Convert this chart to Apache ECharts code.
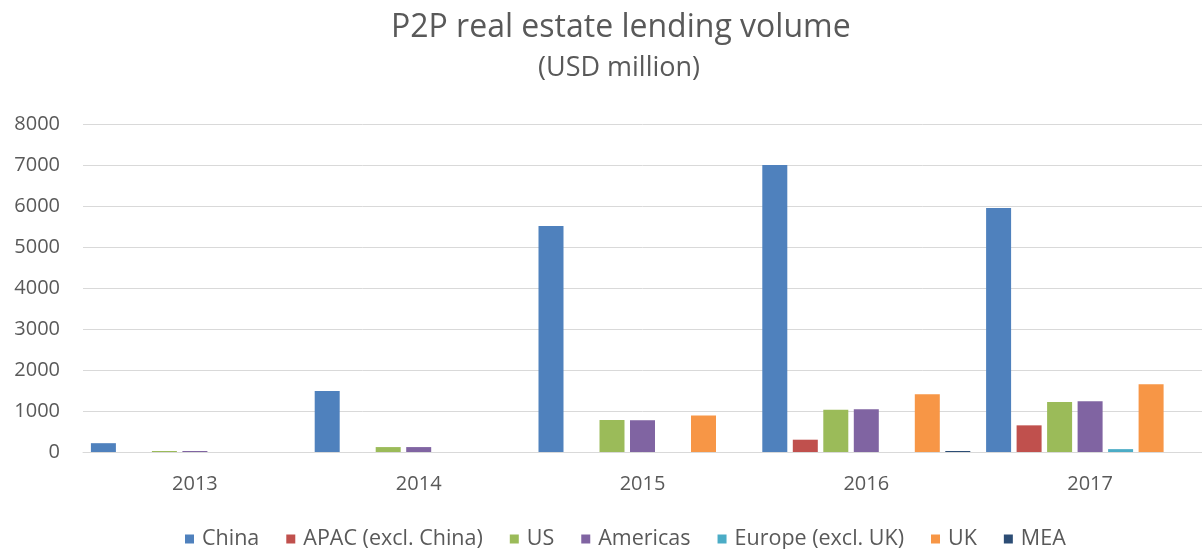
<!DOCTYPE html>
<html>
<head>
<meta charset="utf-8">
<title>P2P real estate lending volume</title>
<script src="https://cdn.jsdelivr.net/npm/echarts@6/dist/echarts.min.js"></script>
<style>
  html, body { margin: 0; padding: 0; background: #fff; }
  #chart { width: 1202px; height: 549px; }
</style>
</head>
<body>
<div id="chart"></div>
<script>
// 数据 - 按年份
var years = ['2013', '2014', '2015', '2016', '2017']
var china = [215, 1490, 5510, 7000, 5950]
var apac = [0, 0, 0, 300, 650]
var us = [25, 120, 780, 1030, 1220]
var americas = [25, 120, 775, 1040, 1240]
var europe = [0, 0, 0, 0, 70]
var uk = [0, 0, 890, 1410, 1650]
var mea = [0, 0, 0, 25, 0]

var seriesNames = ['China', 'APAC (excl. China)', 'US', 'Americas', 'Europe (excl. UK)', 'UK', 'MEA']
var seriesData = [china, apac, us, americas, europe, uk, mea]
var colors = ['#4F81BD', '#C0504D', '#9BBB59', '#8064A2', '#4BACC6', '#F79646', '#2C4D75']

var font = 'Open Sans'
var textColor = '#595959'

var chart = echarts.init(document.getElementById('chart'))

var series = seriesNames.map(function (name, i) {
  return {
    name: name,
    type: 'bar',
    data: seriesData[i],
    barWidth: 25,
    barGap: '22%',
    itemStyle: { color: colors[i] }
  }
})

var option = {
  animation: false,
  color: colors,
  title: [
    {
      text: 'P2P real estate lending volume',
      left: 386,
      top: 7,
      textStyle: { fontFamily: font, fontSize: 32, fontWeight: 'normal', color: textColor }
    },
    {
      text: '(USD million)',
      left: 533,
      top: 50,
      textStyle: { fontFamily: font, fontSize: 27, fontWeight: 'normal', color: textColor }
    }
  ],
  legend: {
    data: seriesNames,
    left: 180,
    top: 523,
    icon: 'rect',
    itemWidth: 9,
    itemHeight: 9,
    itemGap: 27,
    textStyle: { fontFamily: font, fontSize: 21.5, color: textColor, padding: [0, 0, 0, 3] }
  },
  grid: {
    left: 83,
    top: 124,
    bottom: 97,
    width: 1130,
    containLabel: false
  },
  xAxis: {
    type: 'category',
    data: years,
    axisLine: { lineStyle: { color: '#d9d9d9', width: 1 } },
    axisTick: { show: false },
    axisLabel: { fontFamily: font, fontSize: 20, color: textColor, margin: 22 }
  },
  yAxis: {
    type: 'value',
    min: 0,
    max: 8000,
    interval: 1000,
    axisLine: { show: false },
    axisTick: { show: false },
    axisLabel: {
      fontFamily: font,
      fontSize: 20,
      color: textColor,
      margin: 23,
      formatter: function (v) { return String(v) }
    },
    splitLine: { lineStyle: { color: '#d9d9d9', width: 1 } }
  },
  series: series
}

chart.setOption(option)
</script>
</body>
</html>
